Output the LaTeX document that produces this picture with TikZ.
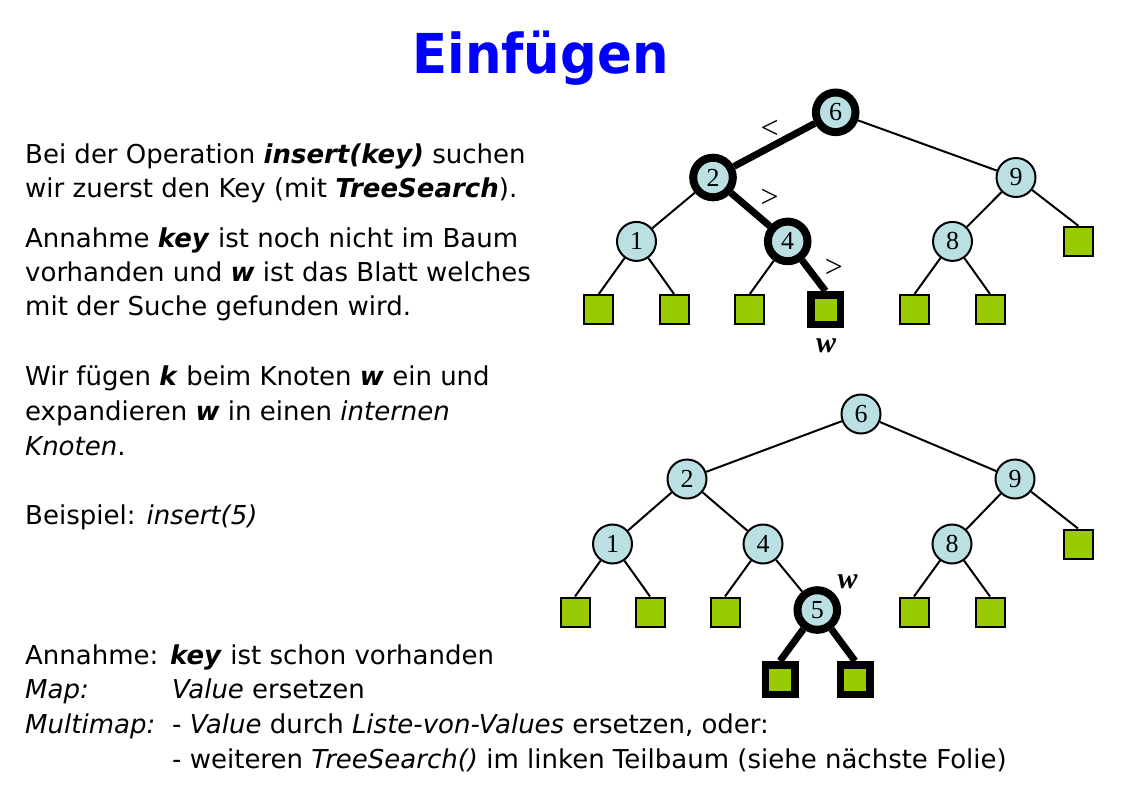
\documentclass[tikz,border=0pt]{standalone}
\usepackage{graphicx}
\usepackage{fontspec}
\setmainfont{DejaVu Sans}
\newfontfamily\titlefont{DejaVu Sans Condensed}
\newfontfamily\treefont{Liberation Serif}
\usetikzlibrary{backgrounds}

\definecolor{nodefill}{RGB}{187,224,227}
\definecolor{leaffill}{RGB}{153,204,0}
\definecolor{titleblue}{RGB}{0,0,255}

\newcommand\bfit[1]{\textbf{\textit{#1}}}

\tikzset{
  inode/.style={circle, draw, line width=2pt, fill=nodefill, minimum size=39pt,
    inner sep=0pt, font=\treefont\fontsize{26}{26}\selectfont},
  hotnode/.style={inode, line width=8pt, minimum size=39.6pt},
  leaf/.style={rectangle, draw, line width=2pt, fill=leaffill, minimum size=29pt, inner sep=0pt},
  hotleaf/.style={leaf, line width=7.5pt, minimum size=29.5pt},
  edge/.style={line width=2pt},
  hotedge/.style={line width=7pt},
  cmp/.style={font=\treefont\fontsize{32}{32}\selectfont, inner sep=0pt},
  wlabel/.style={font=\treefont\fontsize{30}{30}\selectfont\bfseries\itshape, inner sep=0pt},
  txt/.style={anchor=base west, inner sep=0pt, font=\fontsize{26}{31}\selectfont},
}

\begin{document}
\begin{tikzpicture}[x=1pt,y=-1pt]
\useasboundingbox (0,0) rectangle (1140,785);

% title
\node[anchor=base, inner sep=0pt, text=titleblue,
  font=\titlefont\fontsize{55}{60}\selectfont\bfseries] (title) at (540.5,73.3)
  {\scalebox{1.037}[1]{Einfügen}};

% explanatory text
\node[txt] (t1) at (25,163.3) {Bei der Operation \bfit{insert(key)} suchen};
\node[txt] (t2) at (25,197.7) {wir zuerst den Key (mit \bfit{TreeSearch}).};
\node[txt] (t3) at (25,247.3) {Annahme \bfit{key} ist noch nicht im Baum};
\node[txt] (t4) at (25,281) {vorhanden und \bfit{w} ist das Blatt welches};
\node[txt] (t5) at (25,315) {mit der Suche gefunden wird.};
\node[txt] (t6) at (25,385) {Wir fügen \bfit{k} beim Knoten \bfit{w} ein und};
\node[txt] (t7) at (25,420.7) {expandieren \bfit{w} in einen \textit{internen}};
\node[txt] (t8) at (25,455) {\textit{Knoten}.};
\node[txt] (t9) at (25,524) {Beispiel: \textit{insert(5)}};

\node[txt] (t10a) at (25,664.3) {Annahme:};
\node[txt] (t10b) at (170,664.3) {\bfit{key} ist schon vorhanden};
\node[txt] (t11a) at (25,698.3) {\textit{Map:}};
\node[txt] (t11b) at (172,698.3) {\textit{Value} ersetzen};
\node[txt] (t12a) at (25,733.3) {\textit{Multimap:}};
\node[txt] (t12b) at (172,733.3) {- \textit{Value} durch \textit{Liste-von-Values} ersetzen, oder:};
\node[txt] (t13b) at (172,768.3) {- weiteren \textit{TreeSearch()} im linken Teilbaum (siehe nächste Folie)};

% search tree before the insertion
\node[hotnode] (T6) at (835.7,112.3) {6};
\node[hotnode] (T2) at (713,177.5) {2};
\node[inode]   (T9) at (1016,177.5) {9};
\node[inode]   (T1) at (636.5,241.4) {1};
\node[hotnode] (T4) at (787.7,241.4) {4};
\node[inode]   (T8) at (952.5,241.4) {8};
\node[leaf]    (TL9) at (1078.5,241.4) {};
\node[leaf]    (TLa) at (598.8,309.5) {};
\node[leaf]    (TLb) at (674,309.5) {};
\node[leaf]    (TLc) at (749.8,309.5) {};
\node[hotleaf] (TLw) at (825.5,309.5) {};
\node[leaf]    (TLd) at (914.5,309.5) {};
\node[leaf]    (TLe) at (990,309.5) {};

\node[cmp] (lt1) at (769.7,129.5) {<};
\node[cmp] (gt1) at (769.7,198) {>};
\node[cmp] (gt2) at (834,268.6) {>};
\node[wlabel] (w1) at (826,346) {w};

% search tree after the insertion
\node[inode]   (B6) at (861,414) {6};
\node[inode]   (B2) at (687,479) {2};
\node[inode]   (B9) at (1015,479) {9};
\node[inode]   (B1) at (612.5,544) {1};
\node[inode]   (B4) at (763,544) {4};
\node[inode]   (B8) at (952,544) {8};
\node[leaf]    (BL9) at (1078,544) {};
\node[leaf]    (BLa) at (575,612) {};
\node[leaf]    (BLb) at (650,612) {};
\node[leaf]    (BLc) at (725,612) {};
\node[hotnode] (B5) at (817.3,610) {5};
\node[leaf]    (BLd) at (914,612) {};
\node[leaf]    (BLe) at (990,612) {};
\node[hotleaf] (BLf) at (780,679.5) {};
\node[hotleaf] (BLg) at (855,679.5) {};
\node[wlabel] (w2) at (847.5,581.7) {w};

\begin{scope}[on background layer]
  \draw[hotedge] (T6) -- (T2);
  \draw[edge] (T6) -- (T9);
  \draw[edge] (T2) -- (T1);
  \draw[hotedge] (T2) -- (T4);
  \draw[edge] (T9) -- (T8);
  \draw[edge] (T9) -- (TL9.north);
  \draw[edge] (T1) -- (TLa.north);
  \draw[edge] (T1) -- (TLb.north);
  \draw[edge] (T4) -- (TLc.north);
  \draw[hotedge] (T4) -- (TLw.north);
  \draw[edge] (T8) -- (TLd.north);
  \draw[edge] (T8) -- (TLe.north);

  \draw[edge] (B6) -- (B2);
  \draw[edge] (B6) -- (B9);
  \draw[edge] (B2) -- (B1);
  \draw[edge] (B2) -- (B4);
  \draw[edge] (B9) -- (B8);
  \draw[edge] (B9) -- (BL9.north);
  \draw[edge] (B1) -- (BLa.north);
  \draw[edge] (B1) -- (BLb.north);
  \draw[edge] (B4) -- (BLc.north);
  \draw[edge] (B4) -- (B5);
  \draw[edge] (B8) -- (BLd.north);
  \draw[edge] (B8) -- (BLe.north);
  \draw[hotedge] (B5) -- (BLf.north);
  \draw[hotedge] (B5) -- (BLg.north);
\end{scope}
\end{tikzpicture}
\end{document}
